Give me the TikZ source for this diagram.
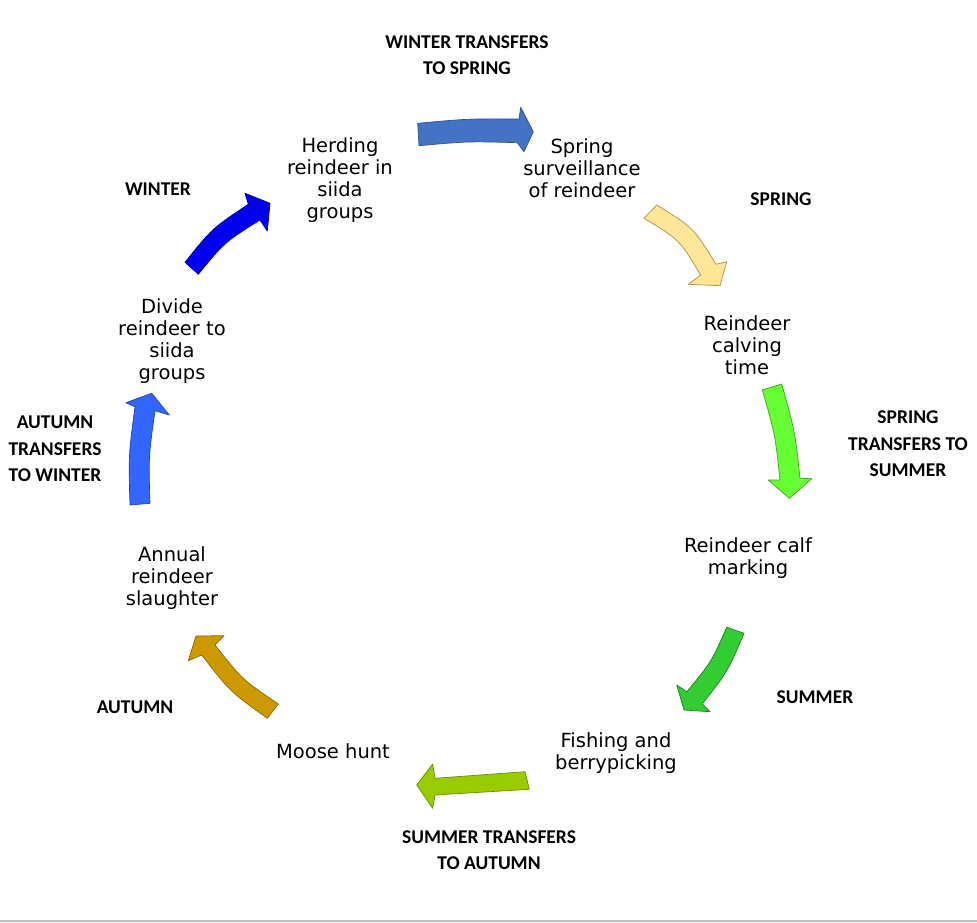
\documentclass[tikz,border=0pt]{standalone}
\usepackage{fontspec}
\setmainfont{DejaVu Sans}
\newfontfamily\labfont{Carlito}
\definecolor{cA}{HTML}{4472C4}\definecolor{oA}{HTML}{2F528F}
\definecolor{cB}{HTML}{FFE699}\definecolor{oB}{HTML}{B09040}
\definecolor{cC}{HTML}{66FF33}\definecolor{oC}{HTML}{40A020}
\definecolor{cD}{HTML}{33CC33}\definecolor{oD}{HTML}{208020}
\definecolor{cE}{HTML}{99CC00}\definecolor{oE}{HTML}{6A8C00}
\definecolor{cF}{HTML}{CC9900}\definecolor{oF}{HTML}{8A6800}
\definecolor{cG}{HTML}{3366FF}\definecolor{oG}{HTML}{2040B0}
\definecolor{cH}{HTML}{0000EE}\definecolor{oH}{HTML}{0000A0}
\tikzset{
  stage/.style={align=center, inner sep=0pt, font=\fontsize{19.5}{22}\selectfont},
  season/.style={align=center, inner sep=0pt, font=\labfont\bfseries\fontsize{19.5}{26.5}\selectfont},
  blockarrow/.style={line width=0.7pt, line join=round}
}
\begin{document}
\begin{tikzpicture}[x=1pt,y=-1pt]
\useasboundingbox (0,0) rectangle (977,923);
\fill[white] (0,0) rectangle (977,923);
\fill[black!6] (0,921) rectangle (977,923);
\draw[black!25, line width=1.2pt] (0,921) -- (977,921);

% stage texts
\node[stage] (herd) at (340,180) {Herding\\reindeer in\\siida\\groups};
\node[stage] (surv) at (582,168) {Spring\\surveillance\\of reindeer};
\node[stage] (calv) at (747,345) {Reindeer\\calving\\time};
\node[stage] (mark) at (748,558) {Reindeer calf\\marking};
\node[stage] (fish) at (616,753) {Fishing and\\berrypicking};
\node[stage] (moose) at (333,751) {Moose hunt};
\node[stage] (slau) at (172,578) {Annual\\reindeer\\slaughter};
\node[stage] (divi) at (172,341) {Divide\\reindeer to\\siida\\groups};

% season labels
\node[season] (l1) at (467,55) {WINTER TRANSFERS\\TO SPRING};
\node[season] (l2) at (781,199) {SPRING};
\node[season] (l3) at (908,444) {SPRING\\TRANSFERS TO\\SUMMER};
\node[season] (l4) at (815,697) {SUMMER};
\node[season] (l5) at (489,850) {SUMMER TRANSFERS\\TO AUTUMN};
\node[season] (l6) at (135,707) {AUTUMN};
\node[season] (l7) at (55,449) {AUTUMN\\TRANSFERS\\TO WINTER};
\node[season] (l8) at (158,189) {WINTER};

% block arrows
\filldraw[blockarrow, fill=cA, draw=oA] (417.7,123.3) .. controls (468,118.7) .. (519,119) -- (520.7,107.3) -- (533.3,131.7) -- (524,151.7) -- (517.3,142.7) .. controls (468,141.3) .. (419,145.7) -- cycle;
\filldraw[blockarrow, fill=cB, draw=oB] (644,218.3) .. controls (679.4,239.6) .. (700.7,275) -- (688.3,284.3) -- (720,285.7) -- (726.7,261.7) -- (716,264.3) .. controls (693.4,227.6) .. (656.7,205) -- cycle;
\filldraw[blockarrow, fill=cC, draw=oC] (762.3,390) .. controls (775.1,434.2) .. (780,480) -- (768.3,480) -- (789.3,498.3) -- (811.7,478.7) -- (800,478.3) .. controls (794.8,430.4) .. (781.7,384) -- cycle;
\filldraw[blockarrow, fill=cD, draw=oD] (726.7,627.3) .. controls (711.2,662.3) .. (686.7,691.7) -- (676.7,685) -- (684,710) -- (710,711.7) -- (702.3,704) .. controls (727.7,671.5) .. (744,633.3) -- cycle;
\filldraw[blockarrow, fill=cE, draw=oE] (525,771.7) .. controls (480,775.5) .. (435,778.3) -- (432.7,764) -- (416.7,785) -- (432.7,808.3) -- (435,795) .. controls (482,792.5) .. (529.3,789.3) -- cycle;
\filldraw[blockarrow, fill=cF, draw=oF] (278.3,704) .. controls (242.1,679.4) .. (215,645) -- (224,635.7) -- (196,636) -- (188.3,660.7) -- (201.7,655) .. controls (230,691.5) .. (267.3,718.3) -- cycle;
\filldraw[blockarrow, fill=cG, draw=oG] (130,505) .. controls (128.5,455.9) .. (135,406.7) -- (126,402.7) -- (151.7,393.3) -- (169.3,415) -- (155,410.7) .. controls (148.5,457) .. (150,503.3) -- cycle;
\filldraw[blockarrow, fill=cH, draw=oH] (185,262.3) .. controls (212.1,228.4) .. (248.3,204.3) -- (245,193.3) -- (270,203.3) -- (267.3,231) -- (260,220) .. controls (224.6,242.2) .. (198.3,274.3) -- cycle;
\end{tikzpicture}
\end{document}
